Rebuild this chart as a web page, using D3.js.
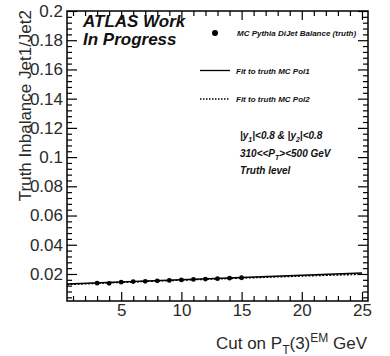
<!DOCTYPE html>
<html>
<head>
<meta charset="utf-8">
<script src="https://cdn.jsdelivr.net/npm/d3@7"></script>
<style>
	body { margin: 0; background: white; }
	text { font-family: "Liberation Sans", Arial, Helvetica, sans-serif; }
</style>
</head>
<body>
<div id="chart"></div>
<script>
// values
const cutValues = [3, 4, 5, 6, 7, 8, 9, 10, 11, 12, 13, 14, 15];
const balanceValues = [0.0137, 0.0136, 0.0144, 0.0148, 0.0150, 0.0153, 0.0156, 0.0159, 0.0163, 0.0165, 0.0168, 0.0171, 0.0174];
const pol1X = [0.5, 25];
const pol1Y = [0.0131, 0.0206];
const pol2X = [0.5, 5, 10, 15, 20, 25];
const pol2Y = [0.0128, 0.0143, 0.0158, 0.0172, 0.0186, 0.0198];
const xTicks = [5, 10, 15, 20, 25];
const yTicks = [0.02, 0.04, 0.06, 0.08, 0.1, 0.12, 0.14, 0.16, 0.18, 0.2];
const legendLabels = ['MC Pythia DiJet Balance (truth)', 'Fit to truth MC Pol1', 'Fit to truth MC Pol2'];

let svgWidth = 390
let svgHeight = 356
let padding = { 'left': 67, 'right': 22, 'top': 11, 'bottom': 55 }

let svg = d3.select('#chart').append('svg')
	.attr('width', svgWidth)
	.attr('height', svgHeight)

let x = d3.scaleLinear()
	.domain([0.5, 25.5])
	.range([padding.left, svgWidth - padding.right]);
let y = d3.scaleLinear()
	.domain([0.0015, 0.2])
	.range([svgHeight - padding.bottom, padding.top]);

const plotW = svgWidth - padding.left - padding.right
const plotH = svgHeight - padding.top - padding.bottom

let xMinor = d3.range(1, 26).filter(d => d % 5 != 0)
let yMinor = d3.range(1, 50).map(d => d * 0.004).filter(d => Math.round(d * 1000) % 20 != 0)

let axes = svg.append('g').classed('axes', true)

function styleAxis(g) {
	g.select('.domain').remove()
	g.selectAll('line').attr('stroke', 'black').attr('stroke-width', 1.2)
	g.selectAll('text')
		.attr('fill', '#2a2a2a')
		.style('font-size', '17px')
		.style('font-family', '"Liberation Sans", Arial, sans-serif')
}

// bottom
axes.append('g')
	.attr('transform', `translate(0, ${svgHeight - padding.bottom})`)
	.call(d3.axisBottom(x).tickValues(xTicks).tickSize(-9).tickPadding(3).tickFormat(d => d))
	.call(styleAxis)
axes.append('g')
	.attr('transform', `translate(0, ${svgHeight - padding.bottom})`)
	.call(d3.axisBottom(x).tickValues(xMinor).tickSize(-5).tickFormat(''))
	.call(styleAxis)
// top
axes.append('g')
	.attr('transform', `translate(0, ${padding.top})`)
	.call(d3.axisTop(x).tickValues(xTicks).tickSize(-9).tickFormat(''))
	.call(styleAxis)
axes.append('g')
	.attr('transform', `translate(0, ${padding.top})`)
	.call(d3.axisTop(x).tickValues(xMinor).tickSize(-5).tickFormat(''))
	.call(styleAxis)
// left
axes.append('g')
	.attr('transform', `translate(${padding.left}, 0)`)
	.call(d3.axisLeft(y).tickValues(yTicks).tickSize(-10).tickPadding(4).tickFormat(d => String(+d.toFixed(2))))
	.call(styleAxis)
axes.append('g')
	.attr('transform', `translate(${padding.left}, 0)`)
	.call(d3.axisLeft(y).tickValues(yMinor).tickSize(-5).tickFormat(''))
	.call(styleAxis)
// right
axes.append('g')
	.attr('transform', `translate(${svgWidth - padding.right}, 0)`)
	.call(d3.axisRight(y).tickValues(yTicks).tickSize(-10).tickFormat(''))
	.call(styleAxis)
axes.append('g')
	.attr('transform', `translate(${svgWidth - padding.right}, 0)`)
	.call(d3.axisRight(y).tickValues(yMinor).tickSize(-5).tickFormat(''))
	.call(styleAxis)

// frame
svg.append('rect')
	.attr('x', padding.left)
	.attr('y', padding.top)
	.attr('width', plotW)
	.attr('height', plotH)
	.attr('fill', 'none')
	.attr('stroke', 'black')
	.attr('stroke-width', 1.5)

// axis titles
svg.append('text')
	.attr('transform', 'rotate(-90)')
	.attr('x', -10)
	.attr('y', 31)
	.attr('text-anchor', 'end')
	.attr('fill', '#2a2a2a')
	.style('font-size', '17px')
	.text('Truth Inbalance Jet1/Jet2')

let xTitle = svg.append('text')
	.attr('x', 367)
	.attr('y', 349)
	.attr('text-anchor', 'end')
	.attr('fill', '#2a2a2a')
	.style('font-size', '17px')
xTitle.append('tspan').text('Cut on P')
xTitle.append('tspan').attr('dy', 5).style('font-size', '12px').text('T')
xTitle.append('tspan').attr('dy', -5).text('(3)')
xTitle.append('tspan').attr('dy', -7).style('font-size', '12px').text('EM')
xTitle.append('tspan').attr('dy', 7).text(' GeV')

// fits
let line = d3.line().x(d => x(d[0])).y(d => y(d[1]))
svg.append('path')
	.datum(pol2X.map((v, i) => [v, pol2Y[i]]))
	.attr('d', line)
	.attr('fill', 'none')
	.attr('stroke', 'black')
	.attr('stroke-width', 1.5)
	.attr('stroke-dasharray', '2,1.5')
svg.append('path')
	.datum(pol1X.map((v, i) => [v, pol1Y[i]]))
	.attr('d', line)
	.attr('fill', 'none')
	.attr('stroke', 'black')
	.attr('stroke-width', 1.5)

// points
svg.selectAll('.pt')
	.data(cutValues)
	.enter()
	.append('circle')
	.attr('class', 'pt')
	.attr('cx', d => x(d))
	.attr('cy', (d, i) => y(balanceValues[i]))
	.attr('r', 2.4)
	.attr('fill', 'black')

// ATLAS label
let atlas = svg.append('text')
	.attr('x', 83)
	.attr('y', 27)
	.attr('fill', '#111')
	.style('font-size', '17px')
	.style('font-weight', 'bold')
	.style('font-style', 'italic')
atlas.append('tspan').attr('x', 83).text('ATLAS Work')
atlas.append('tspan').attr('x', 83).attr('dy', 18).text('In Progress')

// legend
let legend = svg.append('g').attr('class', 'legend')
legend.append('circle')
	.attr('cx', 215).attr('cy', 33).attr('r', 3).attr('fill', 'black')
legend.append('line')
	.attr('x1', 200).attr('x2', 230).attr('y1', 70.5).attr('y2', 70.5)
	.attr('stroke', 'black').attr('stroke-width', 1.3)
legend.append('line')
	.attr('x1', 200).attr('x2', 230).attr('y1', 99).attr('y2', 99)
	.attr('stroke', 'black').attr('stroke-width', 1.3).attr('stroke-dasharray', '1.5,1.5')
legend.selectAll('.ltxt')
	.data(legendLabels)
	.enter()
	.append('text')
	.attr('class', 'ltxt')
	.attr('x', (d, i) => i == 0 ? 237 : 236)
	.attr('y', (d, i) => [36, 73.5, 102][i])
	.attr('fill', '#111')
	.style('font-size', '8px')
	.style('font-weight', 'bold')
	.style('font-style', 'italic')
	.text(d => d)

// cut info
let info = svg.append('g')
	.style('font-size', '10px')
	.style('font-weight', 'bold')
	.style('font-style', 'italic')
	.attr('fill', '#111')
let t1 = info.append('text').attr('x', 240).attr('y', 139)
t1.append('tspan').text('|y')
t1.append('tspan').attr('dy', 3).style('font-size', '7px').text('1')
t1.append('tspan').attr('dy', -3).text('|<0.8 & |y')
t1.append('tspan').attr('dy', 3).style('font-size', '7px').text('2')
t1.append('tspan').attr('dy', -3).text('|<0.8')
let t2 = info.append('text').attr('x', 240).attr('y', 157)
t2.append('tspan').text('310<<P')
t2.append('tspan').attr('dy', 3).style('font-size', '7px').text('T')
t2.append('tspan').attr('dy', -3).text('><500 GeV')
info.append('text').attr('x', 240).attr('y', 174).text('Truth level')
</script>
</body>
</html>
